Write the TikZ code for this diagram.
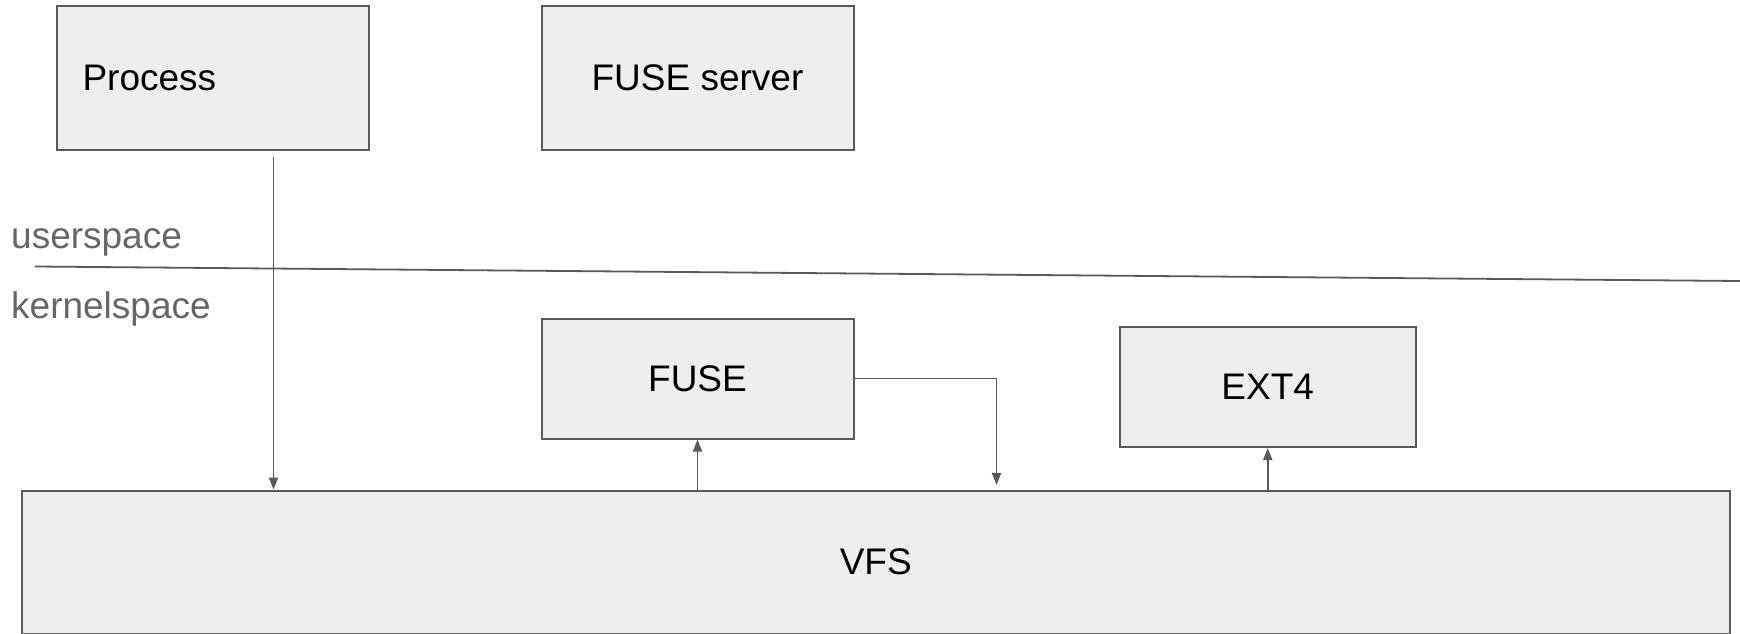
\documentclass[tikz,border=0pt]{standalone}
\usepackage{fontspec}
\setmainfont{Liberation Sans}
\usetikzlibrary{arrows.meta}
\definecolor{boxfill}{HTML}{EEEEEE}
\definecolor{edgegray}{HTML}{595959}
\definecolor{labelgray}{HTML}{666666}
\begin{document}
\begin{tikzpicture}[x=1pt,y=-1pt,
  box/.style={draw=edgegray, fill=boxfill, line width=2pt, font=\fontsize{37}{44}\selectfont,
              inner sep=0pt, anchor=north west},
  conn/.style={draw=edgegray, line width=1.8pt},
  arr/.style={conn, -{Triangle[length=12pt,width=9pt]}},
  lbl/.style={text=labelgray, font=\fontsize{37}{44}\selectfont, inner sep=0pt, anchor=base west}
]
\useasboundingbox (0,0) rectangle (1740,634);

\node[box, minimum width=312pt, minimum height=143pt, text width=312pt, align=left,
      text depth=0pt] (process) at (55.5,5.5) {\hspace*{26pt}Process};
\node[box, minimum width=312pt, minimum height=143pt] (fuseserver) at (540.5,5.5) {FUSE server};
\node[box, minimum width=312pt, minimum height=120pt] (fuse) at (540.5,317.5) {FUSE};
\node[box, minimum width=296.5pt, minimum height=120.5pt] (ext4) at (1118.5,325.5) {EXT4};
\node[box, minimum width=1707.5pt, minimum height=143pt] (vfs) at (21,489.5) {VFS};

\node[lbl] (user) at (11,248) {userspace};
\node[lbl] (kernel) at (11,318) {kernelspace};

\coordinate (l0) at (35,266.5);
\coordinate (l1) at (1740,281);
\draw[conn] (l0) -- (l1);

\coordinate (p0) at ([xshift=61pt,yshift=-6pt]process.south);
\draw[arr] (p0) -- (p0 |- vfs.north);
\draw[arr] (fuse.south |- vfs.north) -- (fuse.south);
\draw[arr] (ext4.south |- vfs.north) -- (ext4.south);
\coordinate (fz) at (996.5,485);
\draw[arr] (fuse.east) -| (fz);
\end{tikzpicture}
\end{document}
